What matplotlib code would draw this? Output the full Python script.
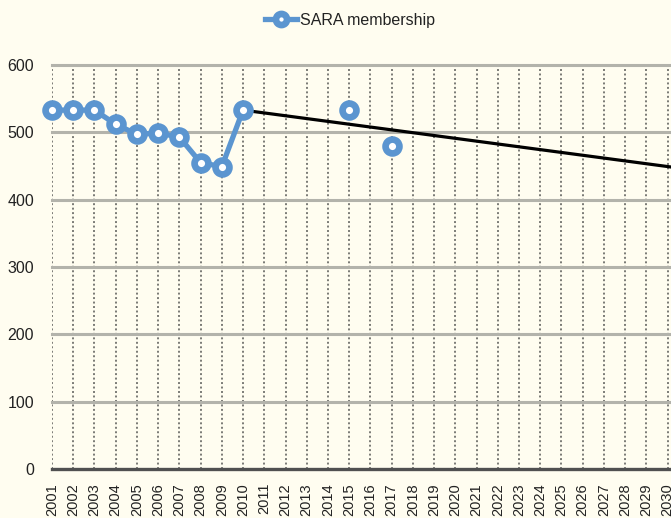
import numpy as np
import matplotlib
matplotlib.use("Agg")
import matplotlib.pyplot as plt

plt.rcParams['font.family'] = ['Liberation Sans', 'DejaVu Sans']

# Data
years = [2001, 2002, 2003, 2004, 2005, 2006, 2007, 2008, 2009, 2010,
         2011, 2012, 2013, 2014, 2015, 2016, 2017]
membership = [533, 533, 533, 512, 497, 499, 493, 455, 449, 533,
              None, None, None, None, 533, None, 479]
trend_years = [2010, 2031]
trend_values = [533, 445]
tick_years = list(range(2001, 2031))
y_ticks = [0, 100, 200, 300, 400, 500, 600]
series_label = "SARA membership"

bg = '#FFFDF0'
blue = '#5B95D0'

fig = plt.figure(figsize=(6.71, 5.18), dpi=100, facecolor=bg)
ax = fig.add_axes([52/671, 1-469/518, 1-52/671, (469-65)/518])
ax.set_facecolor(bg)

vals = np.array([np.nan if v is None else v for v in membership], dtype=float)

# grid
for yr in tick_years:
    ax.axvline(yr, color='#7a7a75', lw=1.4, ls=(0, (1, 1.3)), zorder=1)
for yv in y_ticks[1:]:
    ax.axhline(yv, color='#b3b3ab', lw=2.2, zorder=1, clip_on=False)
ax.axhline(0, color='#505050', lw=2.4, zorder=2, clip_on=False)

ax.plot(trend_years, trend_values, color='black', lw=2.3, zorder=3)
ax.plot(years, vals, color=blue, lw=3.8, marker='o', ms=10,
        mew=4.8, mfc='white', mec=blue, zorder=4, clip_on=False,
        label=series_label)

ax.set_xlim(2001, 2030.16)
ax.set_ylim(0, 600)
ax.set_xticks(tick_years)
ax.set_xticklabels([str(y) for y in tick_years], rotation=90, fontsize=10.5,
                   color='#222222')
ax.set_yticks(y_ticks)
ax.set_yticklabels([str(y) for y in y_ticks], fontsize=11.5, color='#222222')
ax.tick_params(axis='both', length=0)
ax.tick_params(axis='y', pad=13)
ax.tick_params(axis='x', pad=10)
for s in ax.spines.values():
    s.set_visible(False)

leg = fig.legend(loc='center', bbox_to_anchor=(350/671, 1-20/518), frameon=False,
                 fontsize=11.5, handlelength=2.0, handletextpad=0.15,
                 markerscale=0.8)
for t in leg.get_texts():
    t.set_color('#222222')

fig.savefig('out.png', dpi=100, facecolor=bg)
